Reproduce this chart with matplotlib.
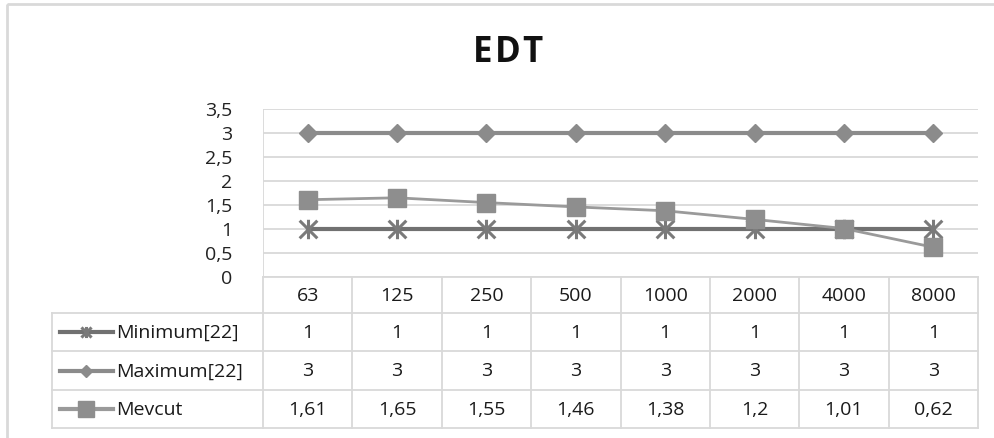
import matplotlib
matplotlib.use("Agg")
import matplotlib.pyplot as plt
from matplotlib.path import Path
from matplotlib.patches import Rectangle

plt.rcParams['font.family'] = ['Open Sans', 'DejaVu Sans']

# Data
categories = ["63", "125", "250", "500", "1000", "2000", "4000", "8000"]
minimum = [1, 1, 1, 1, 1, 1, 1, 1]
maximum = [3, 3, 3, 3, 3, 3, 3, 3]
mevcut = [1.61, 1.65, 1.55, 1.46, 1.38, 1.2, 1.01, 0.62]
series_names = ["Minimum[22]", "Maximum[22]", "Mevcut"]
y_ticks = [0, 0.5, 1, 1.5, 2, 2.5, 3, 3.5]

W, H = 995, 438
fig = plt.figure(figsize=(W / 100, H / 100), dpi=100)

# Asterisk-style marker: an X crossed by a vertical bar
star = Path([(-1, -1), (1, 1), (-1, 1), (1, -1), (0, -1.1), (0, 1.1)],
            [Path.MOVETO, Path.LINETO, Path.MOVETO, Path.LINETO, Path.MOVETO, Path.LINETO])

styles = [
    dict(color="#717171", lw=3.0, marker=star, ms=14, mew=2.2, mfc="#7a7a7a", mec="#7a7a7a"),
    dict(color="#8b8b8b", lw=3.0, marker="D", ms=9, mfc="#8b8b8b", mec="#8b8b8b"),
    dict(color="#9a9a9a", lw=2.0, marker="s", ms=13, mfc="#8e8e8e", mec="#8e8e8e"),
]
key_ms = [8, 6.5, 11]

grid_c = "#d9d9d9"
fs = 14

def fmt(v):
    return ("%g" % v).replace(".", ",")

# Plot area geometry in pixels
px_l, px_r, px_t, px_b = 263, 978, 109, 277
ax = fig.add_axes([px_l / W, 1 - px_b / H, (px_r - px_l) / W, (px_b - px_t) / H])
ax.set_xlim(-0.5, len(categories) - 0.5)
ax.set_ylim(0, 3.5)
for v in y_ticks:
    ax.axhline(v, color=grid_c, lw=1.3, zorder=0)
for s in ax.spines.values():
    s.set_visible(False)
ax.axvline(-0.5, color=grid_c, lw=1.3, zorder=0)
ax.set_xticks([])
ax.set_yticks(y_ticks)
ax.set_yticklabels([fmt(v) for v in y_ticks], fontsize=fs, color="#222222")
ax.tick_params(axis="y", length=0, pad=22)
ax.set_facecolor("none")

x = range(len(categories))
for vals, st in zip([minimum, maximum, mevcut], styles):
    ax.plot(x, vals, clip_on=False, zorder=3, **st)

# Overlay in pixel coordinates for frame, title and data table
ov = fig.add_axes([0, 0, 1, 1], zorder=-1)
ov.set_xlim(0, W)
ov.set_ylim(H, 0)
ov.axis("off")
ov.add_patch(Rectangle((7, 4), W + 10, H + 10, fill=False, ec="#d9d9d9", lw=2))

# Title with a little tracking between the letters
for ch, cx in zip("EDT", [483, 508, 532]):
    ov.text(cx, 53, ch, ha="center", va="center", fontsize=25, fontweight="bold", color="#111111")

n = len(categories)
col_w = (px_r - px_l) / n
row_edges = [277, 313, 351, 390, 428]
tab_l = 52
lw_t = 1.3
ov.plot([px_l, px_r], [row_edges[0]] * 2, color=grid_c, lw=lw_t)
for ry in row_edges[1:]:
    ov.plot([tab_l, px_r], [ry, ry], color=grid_c, lw=lw_t)
ov.plot([tab_l, tab_l], [row_edges[1], row_edges[-1]], color=grid_c, lw=lw_t)
for i in range(n + 1):
    xx = px_l + i * col_w
    ov.plot([xx, xx], [row_edges[0], row_edges[-1]], color=grid_c, lw=lw_t)

txt_c = "#1a1a1a"
for i, c in enumerate(categories):
    ov.text(px_l + (i + 0.5) * col_w, (row_edges[0] + row_edges[1]) / 2 + 1, c,
            ha="center", va="center", fontsize=fs, color=txt_c)

for r, (name, vals, st) in enumerate(zip(series_names, [minimum, maximum, mevcut], styles)):
    yc = (row_edges[r + 1] + row_edges[r + 2]) / 2
    ov.plot([60, 113], [yc, yc], color=st["color"], lw=3.0)
    ov.plot([86], [yc], linestyle="None", marker=st["marker"], ms=key_ms[r],
            mew=st.get("mew", 1), mfc=st["mfc"], mec=st["mec"])
    ov.text(116, yc + 1, name, ha="left", va="center", fontsize=fs, color=txt_c)
    for i, v in enumerate(vals):
        ov.text(px_l + (i + 0.5) * col_w, yc + 1, fmt(v),
                ha="center", va="center", fontsize=fs, color=txt_c)

fig.savefig("out.png", dpi=100)
